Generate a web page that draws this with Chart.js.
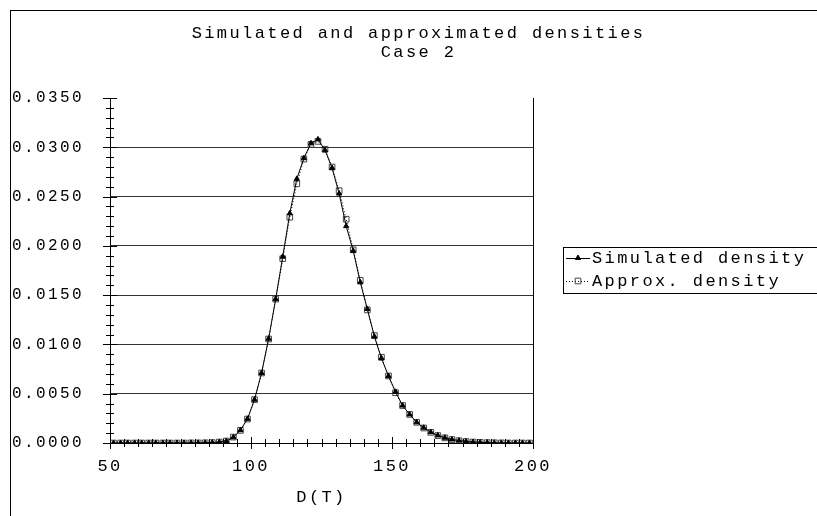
<!DOCTYPE html>
<html>
<head>
<meta charset="utf-8">
<script src="https://cdn.jsdelivr.net/npm/chart.js"></script>
<style>
  body { margin: 0; background: #fff; overflow: hidden; }
  #frame { position: absolute; left: 10px; top: 10px; width: 900px; height: 600px; border: 1px solid #000; }
  #chart { position: absolute; left: 10px; top: 0; }
</style>
</head>
<body>
<div id="frame"></div>
<canvas id="chart" width="817" height="516"></canvas>
<script>
// midpoints of the D(T) classes
const dValues = [51.25, 53.75, 56.25, 58.75, 61.25, 63.75, 66.25, 68.75, 71.25, 73.75,
                 76.25, 78.75, 81.25, 83.75, 86.25, 88.75, 91.25, 93.75, 96.25, 98.75,
                 101.25, 103.75, 106.25, 108.75, 111.25, 113.75, 116.25, 118.75, 121.25, 123.75,
                 126.25, 128.75, 131.25, 133.75, 136.25, 138.75, 141.25, 143.75, 146.25, 148.75,
                 151.25, 153.75, 156.25, 158.75, 161.25, 163.75, 166.25, 168.75, 171.25, 173.75,
                 176.25, 178.75, 181.25, 183.75, 186.25, 188.75, 191.25, 193.75, 196.25, 198.75];

const simulatedDensity = [0, 0, 0, 0, 0, 0, 0, 0, 0, 0,
                          0, 0.00001, 0.00001, 0.00002, 0.00004, 0.00009, 0.0002, 0.00058, 0.0013, 0.00245,
                          0.0044, 0.0071, 0.01058, 0.0146, 0.0189, 0.0233, 0.0268, 0.0289, 0.0304, 0.0308,
                          0.0297, 0.0279, 0.0253, 0.0220, 0.0195, 0.0163, 0.0136, 0.0108, 0.0086, 0.0068,
                          0.0052, 0.0038, 0.0029, 0.0021, 0.00155, 0.0011, 0.00077, 0.00053, 0.00036, 0.00024,
                          0.00016, 0.0001, 0.00006, 0.00004, 0.00002, 0.00001, 0, 0, 0, 0];

const approxDensity = [0, 0, 0, 0, 0, 0, 0, 0, 0, 0,
                       0, 0.00001, 0.00001, 0.00002, 0.00004, 0.0001, 0.0002, 0.0006, 0.00128, 0.00243,
                       0.0044, 0.0071, 0.01055, 0.0146, 0.0187, 0.0229, 0.0263, 0.0288, 0.0303, 0.0306,
                       0.0298, 0.0280, 0.0256, 0.0227, 0.0196, 0.0165, 0.0135, 0.0109, 0.0087, 0.0068,
                       0.0051, 0.0038, 0.0029, 0.0021, 0.00152, 0.00108, 0.00075, 0.00052, 0.00035, 0.00023,
                       0.00015, 0.0001, 0.00006, 0.00004, 0.00002, 0.00001, 0, 0, 0, 0];

const xTicks = [50, 100, 150, 200];
const yTicks = [0, 0.005, 0.010, 0.015, 0.020, 0.025, 0.030, 0.035];
const xMinorStep = 5;
const yMinorStep = 0.001;

const FONT = "'Courier New', 'Liberation Mono', monospace";
Chart.defaults.font.family = FONT;
Chart.defaults.font.size = 17;
Chart.defaults.color = '#000';

const toPoints = ys => ys.map((v, i) => ({ x: dValues[i], y: v }));

// wide letter spacing like the old Courier output
const spacing = {
    id: 'spacing',
    beforeUpdate(chart) { chart.ctx.letterSpacing = '2.4px'; },
    beforeDraw(chart) { chart.ctx.letterSpacing = '2.4px'; }
};

// ticks crossing the axes, major and minor
const crossTicks = {
    id: 'crossTicks',
    afterDraw(chart) {
        const { ctx, chartArea: a, scales: { x, y } } = chart;
        ctx.save();
        ctx.strokeStyle = '#000';
        ctx.lineWidth = 1;
        ctx.beginPath();
        const nx = Math.round((xTicks[xTicks.length - 1] - xTicks[0]) / xMinorStep);
        for (let i = 0; i <= nx; i++) {
            const v = xTicks[0] + i * xMinorStep;
            const px = Math.round(x.getPixelForValue(v)) + 0.5;
            const h = xTicks.includes(v) ? 6 : 4;
            ctx.moveTo(px, a.bottom - h);
            ctx.lineTo(px, a.bottom + h);
        }
        const ny = Math.round((yTicks[yTicks.length - 1] - yTicks[0]) / yMinorStep);
        for (let i = 0; i <= ny; i++) {
            const py = Math.round(y.getPixelForValue(i * yMinorStep)) + 0.5;
            const w = i % 5 === 0 ? 7 : 4;
            ctx.moveTo(a.left - w, py);
            ctx.lineTo(a.left + w, py);
        }
        ctx.stroke();
        ctx.restore();
    }
};

// boxed legend on the right
const boxLegend = {
    id: 'boxLegend',
    afterDraw(chart, args, opts) {
        const { ctx } = chart;
        ctx.save();
        ctx.strokeStyle = '#000';
        ctx.lineWidth = 1;
        ctx.strokeRect(opts.x + 0.5, opts.y + 0.5, opts.w, opts.h);
        ctx.font = '17px ' + FONT;
        ctx.textBaseline = 'middle';
        chart.data.datasets.forEach((ds, i) => {
            const y = opts.y + opts.first + i * opts.gap;
            ctx.strokeStyle = ds.borderColor;
            ctx.setLineDash(ds.borderDash || []);
            ctx.beginPath();
            ctx.moveTo(opts.x + 3, y + 0.5);
            ctx.lineTo(opts.x + 27, y + 0.5);
            ctx.stroke();
            ctx.setLineDash([]);
            ctx.fillStyle = ds.pointBackgroundColor;
            ctx.strokeStyle = ds.pointBorderColor;
            Chart.helpers.drawPoint(ctx, { pointStyle: ds.pointStyle, radius: ds.pointRadius, borderWidth: 1, rotation: 0 }, opts.x + 15, y);
            ctx.fillStyle = '#000';
            ctx.fillText(ds.label, opts.x + 29, y);
        });
        ctx.restore();
    }
};

new Chart(document.getElementById('chart'), {
    type: 'line',
    data: {
        datasets: [{
            label: 'Simulated density',
            data: toPoints(simulatedDensity),
            borderColor: '#000',
            borderWidth: 1,
            pointStyle: 'triangle',
            pointRadius: 3,
            pointBackgroundColor: '#000',
            pointBorderColor: '#000',
            pointBorderWidth: 1,
            tension: 0
        }, {
            label: 'Approx. density',
            data: toPoints(approxDensity),
            borderColor: '#000',
            borderWidth: 1,
            borderDash: [1, 2],
            pointStyle: 'rect',
            pointRadius: 4,
            pointBackgroundColor: 'rgba(255,255,255,0)',
            pointBorderColor: '#444',
            pointBorderWidth: 1,
            tension: 0
        }]
    },
    options: {
        responsive: false,
        animation: false,
        events: [],
        plugins: {
            legend: { display: false },
            tooltip: { enabled: false },
            title: {
                display: true,
                text: ['Simulated and approximated densities', 'Case 2'],
                color: '#000',
                font: { family: FONT, size: 17, weight: 'normal', lineHeight: '19px' },
                padding: { top: 23.5, bottom: 36.5 }
            },
            boxLegend: { x: 553, y: 247, w: 300, h: 46, first: 11, gap: 23 }
        },
        scales: {
            x: {
                type: 'linear',
                min: 50,
                max: 200,
                afterBuildTicks: s => { s.ticks = xTicks.map(v => ({ value: v })); },
                afterFit: s => { s.height = 73; },
                grid: { display: false, drawTicks: false },
                border: { display: true, color: '#000', width: 1 },
                ticks: { padding: 13, color: '#000', maxRotation: 0 },
                title: { display: true, text: 'D(T)', color: '#000', padding: { top: 0, bottom: 8 } }
            },
            y: {
                min: 0,
                max: 0.035,
                afterBuildTicks: s => { s.ticks = yTicks.map(v => ({ value: v })); },
                afterFit: s => { s.width = 100; },
                grid: {
                    drawTicks: false,
                    color: c => (c.tick && c.tick.value > 0.0001 && c.tick.value < 0.0349) ? '#333' : 'rgba(0,0,0,0)'
                },
                border: { display: true, color: '#000', width: 1 },
                ticks: { padding: 26, color: '#000', font: { size: 16 }, callback: v => v.toFixed(4) }
            },
            side: {
                position: 'right',
                afterFit: s => { s.width = 294; },
                grid: { display: false, drawTicks: false },
                border: { display: true, color: '#000', width: 1 },
                ticks: { display: false }
            }
        }
    },
    plugins: [spacing, crossTicks, boxLegend]
});
</script>
</body>
</html>
